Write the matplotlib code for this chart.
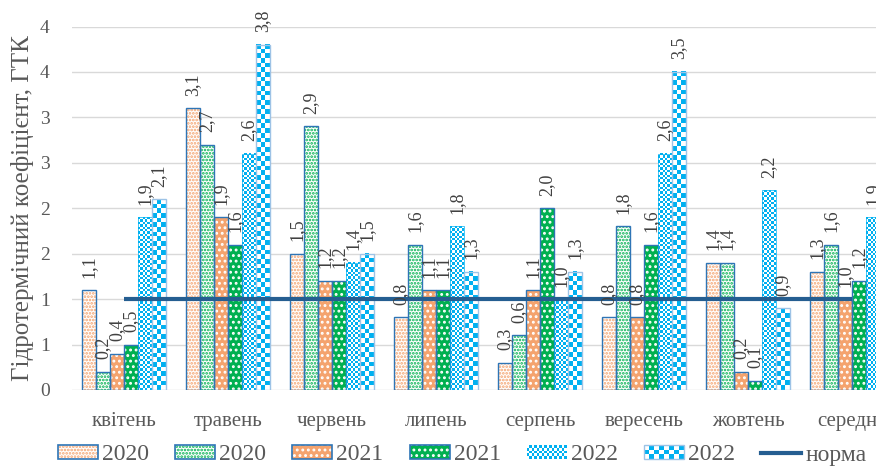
import numpy as np
import matplotlib.pyplot as plt
from matplotlib.patches import Patch, Rectangle
from matplotlib.lines import Line2D
from matplotlib.colors import ListedColormap
from matplotlib.legend_handler import HandlerBase

plt.rcParams['font.family'] = ['Liberation Serif', 'DejaVu Serif']
plt.rcParams['hatch.linewidth'] = 1.3

# data
months = ['квітень', 'травень', 'червень', 'липень', 'серпень', 'вересень', 'жовтень', 'середнє']
series_names = ['2020', '2020', '2021', '2021', '2022', '2022']
v_2020a = [1.1, 3.1, 1.5, 0.8, 0.3, 0.8, 1.4, 1.3]
v_2020b = [0.2, 2.7, 2.9, 1.6, 0.6, 1.8, 1.4, 1.6]
v_2021a = [0.4, 1.9, 1.2, 1.1, 1.1, 0.8, 0.2, 1.0]
v_2021b = [0.5, 1.6, 1.2, 1.1, 2.0, 1.6, 0.1, 1.2]
v_2022a = [1.9, 2.6, 1.4, 1.8, 1.0, 2.6, 2.2, 1.9]
v_2022b = [2.1, 3.8, 1.5, 1.3, 1.3, 3.5, 0.9, 2.1]
norm = [1.0] * 8
y_ticks = [0, 0.5, 1, 1.5, 2, 2.5, 3, 3.5, 4]
y_tick_labels = ['0', '1', '1', '2', '2', '3', '3', '4', '4']

values = [v_2020a, v_2020b, v_2021a, v_2021b, v_2022a, v_2022b]

ORANGE = '#F4A36E'
GREEN = '#00B050'
BLUE = '#00B0F0'
EDGE = '#2E75B6'
TXT = '#595959'

# style: (face, hatch, hatchcolor, kind)
styles = [
    ('white', '.....', ORANGE, 'hatch'),
    ('white', '.....', GREEN, 'hatch'),
    (ORANGE, '...', 'white', 'hatch'),
    (GREEN, '...', 'white', 'hatch'),
    (None, None, None, 'small'),
    (None, None, None, 'big'),
]

fig = plt.figure(figsize=(8.76, 4.66), dpi=100)
ax = fig.add_axes([72 / 876, 76 / 466, 832 / 876, 363.5 / 466])

x = np.arange(len(months))
w = 0.1346
px_x = 104.0   # pixels per category
px_y = 91.0    # pixels per unit

ax.set_xlim(-0.5, len(months) - 0.5)
ax.set_ylim(0, 4)

checker_cmap = ListedColormap(['white', BLUE])

for i, (vals, st) in enumerate(zip(values, styles)):
    pos = x + (i - 2.5) * w
    face, hatch, hcol, kind = st
    if kind == 'hatch':
        ax.bar(pos, vals, w, color=face, hatch=hatch, edgecolor=hcol, linewidth=0, zorder=2)
        ax.bar(pos, vals, w, fill=False, edgecolor=EDGE, linewidth=1.0, zorder=3)
    else:
        bars = ax.bar(pos, vals, w, color='white', linewidth=0, zorder=2)
        cell = 2.4 if kind == 'small' else 4.7
        for b in bars:
            bx, bw, bh = b.get_x(), b.get_width(), b.get_height()
            nx = max(1, int(round(bw * px_x / cell)))
            ny = max(1, int(round(bh * px_y / cell)))
            ii, jj = np.indices((ny, nx))
            img = (ii + jj) % 2
            ax.imshow(img, cmap=checker_cmap, extent=[bx, bx + bw, 0, bh], aspect='auto',
                      interpolation='nearest', origin='lower', zorder=2, vmin=0, vmax=1)
        ec = '#9DC3E6' if kind == 'big' else BLUE
        ax.bar(pos, vals, w, fill=False, edgecolor=ec, linewidth=1.0 if kind == 'big' else 0.5, zorder=3)
    for p, v in zip(pos, vals):
        ax.annotate(f'{v:.1f}'.replace('.', ','), (p, v), xytext=(0, 9), textcoords='offset points',
                    rotation=90, ha='center', va='bottom', fontsize=13, color='#404040', zorder=6)

ax.plot(x, norm, color='#255E91', linewidth=3, zorder=5, solid_capstyle='butt')

ax.set_xlim(-0.5, len(months) - 0.5)
ax.set_ylim(0, 4)
ax.set_yticks(y_ticks)
ax.set_yticklabels(y_tick_labels)
ax.set_xticks(x)
ax.set_xticklabels(months)
ax.tick_params(axis='both', length=0, labelsize=14, colors=TXT)
ax.tick_params(axis='x', labelsize=15, pad=16)
ax.tick_params(axis='y', pad=16)
ax.grid(axis='y', color='#D9D9D9', linewidth=1)
ax.set_axisbelow(True)
for s in ax.spines.values():
    s.set_visible(False)
ax.set_ylabel('Гідротермічний коефіцієнт, ГТК', fontsize=18, color=TXT, labelpad=4)


class CheckerHandler(HandlerBase):
    def __init__(self, nx, ny, edge):
        super().__init__()
        self.nx, self.ny, self.edge = nx, ny, edge

    def create_artists(self, legend, orig_handle, xdescent, ydescent, width, height, fontsize, trans):
        arts = [Rectangle((-xdescent, -ydescent), width, height, facecolor='white',
                          edgecolor='none', transform=trans)]
        cw, ch = width / self.nx, height / self.ny
        for a in range(self.nx):
            for b in range(self.ny):
                if (a + b) % 2:
                    arts.append(Rectangle((-xdescent + a * cw, -ydescent + b * ch), cw, ch,
                                          facecolor=BLUE, edgecolor='none', transform=trans))
        if self.edge:
            arts.append(Rectangle((-xdescent, -ydescent), width, height, fill=False,
                                  edgecolor='#9DC3E6', linewidth=1, transform=trans))
        return arts


class HatchHandler(HandlerBase):
    def __init__(self, face, hatch, hcol):
        super().__init__()
        self.face, self.hatch, self.hcol = face, hatch, hcol

    def create_artists(self, legend, orig_handle, xdescent, ydescent, width, height, fontsize, trans):
        r1 = Rectangle((-xdescent, -ydescent), width, height, facecolor=self.face,
                       hatch=self.hatch, edgecolor=self.hcol, linewidth=0, transform=trans)
        r2 = Rectangle((-xdescent, -ydescent), width, height, fill=False,
                       edgecolor=EDGE, linewidth=1.2, transform=trans)
        return [r1, r2]


handles = [Patch(facecolor='white') for _ in range(6)]
handles.append(Line2D([], [], color='#255E91', linewidth=3))
labels = series_names + ['норма']
hmap = {}
for i in range(4):
    face, hatch, hcol, kind = styles[i]
    hmap[handles[i]] = HatchHandler(face, hatch, hcol)
hmap[handles[4]] = CheckerHandler(16, 5, False)
hmap[handles[5]] = CheckerHandler(8, 3, True)

leg = fig.legend(handles, labels, loc='center left', bbox_to_anchor=(58 / 876, 11 / 466), ncol=7,
                 frameon=False, fontsize=17, handlelength=1.7, handleheight=0.5,
                 handletextpad=0.17, columnspacing=1.1, borderpad=0, borderaxespad=0,
                 handler_map=hmap)
for t in leg.get_texts():
    t.set_color(TXT)

fig.savefig('out.png', dpi=100)
